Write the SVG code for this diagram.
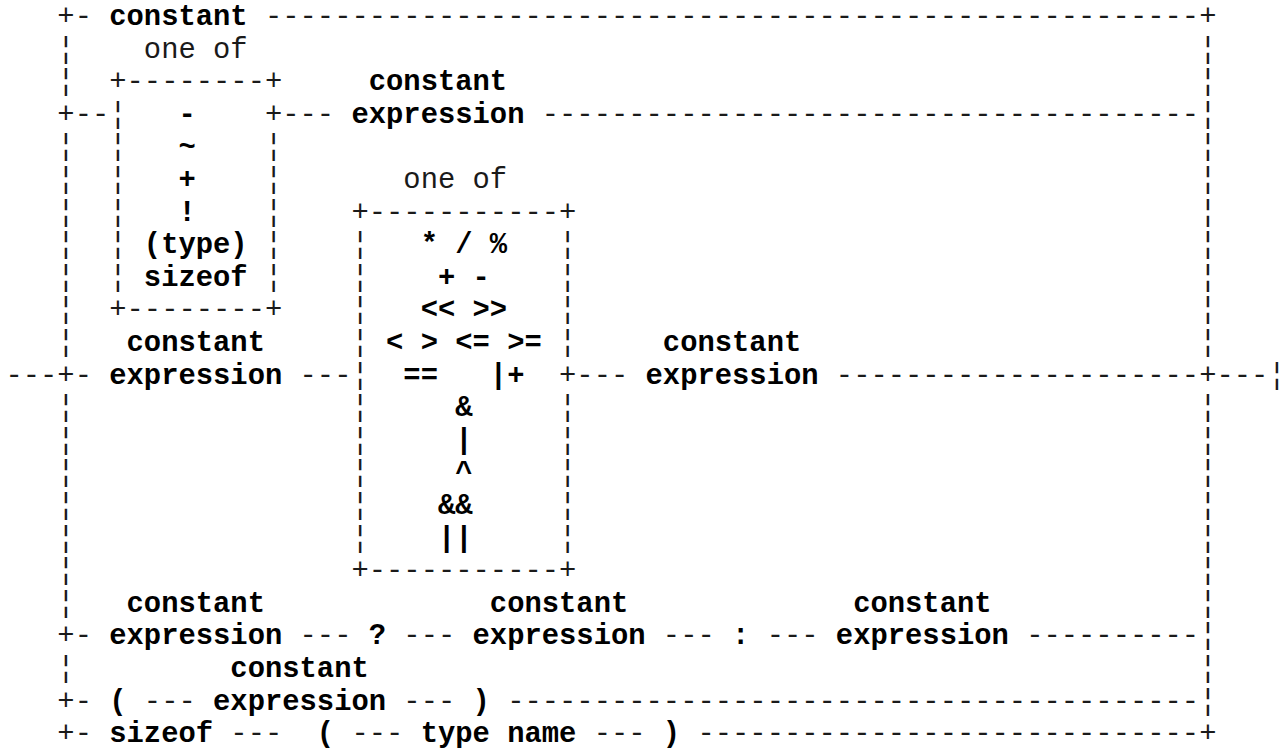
<svg xmlns="http://www.w3.org/2000/svg" width="1284" height="749" viewBox="0 0 1284 749">
  <style>
    text { font-family: "Liberation Mono", "Courier New", monospace; font-size: 28.83px; }
    .ln { fill: #1a1a1a; }
    .kw { fill: #000; font-weight: bold; }
  </style>
  <rect width="1284" height="749" fill="#fff"/>

  <!-- line art: rails, joins and borders (17.3 px per column, 32.6 px per row) -->
  <g id="connectors" class="ln" xml:space="preserve">
    <!-- row 0 -->
    <text x="57.35" y="25">+-</text>
    <text x="264.95" y="25">------------------------------------------------------</text>
    <text x="1199.15" y="25">+</text>
    <!-- row 3 -->
    <text x="57.35" y="122.8">+--</text>
    <text x="264.95" y="122.8">+---</text>
    <text x="541.75" y="122.8">--------------------------------------</text>
    <text x="1199.15" y="122.8">¦</text>
    <!-- row 11 -->
    <text x="5.45" y="383.6">---+-</text>
    <text x="299.55" y="383.6">---</text>
    <text x="559.05" y="383.6">+---</text>
    <text x="835.85" y="383.6">---------------------</text>
    <text x="1199.15" y="383.6">+---</text>
    <text x="1268.35" y="383.6">¦</text>
    <!-- row 19 -->
    <text x="57.35" y="644.4">+-</text>
    <text x="299.55" y="644.4">---</text>
    <text x="403.35" y="644.4">---</text>
    <text x="662.85" y="644.4">---</text>
    <text x="766.65" y="644.4">---</text>
    <text x="1026.15" y="644.4">----------</text>
    <text x="1199.15" y="644.4">¦</text>
    <!-- row 21 -->
    <text x="57.35" y="709.6">+-</text>
    <text x="143.85" y="709.6">---</text>
    <text x="403.35" y="709.6">---</text>
    <text x="507.15" y="709.6">----------------------------------------</text>
    <text x="1199.15" y="709.6">¦</text>
    <!-- row 22 -->
    <text x="57.35" y="742.2">+-</text>
    <text x="230.35" y="742.2">---</text>
    <text x="351.45" y="742.2">---</text>
    <text x="593.65" y="742.2">---</text>
    <text x="697.45" y="742.2">-----------------------------</text>
    <text x="1199.15" y="742.2">+</text>
    <!-- left border -->
    <text>
      <tspan x="57.35" y="57.6">¦</tspan><tspan x="57.35" y="90.2">¦</tspan>
      <tspan x="57.35" y="155.4">¦</tspan><tspan x="57.35" y="188">¦</tspan>
      <tspan x="57.35" y="220.6">¦</tspan><tspan x="57.35" y="253.2">¦</tspan>
      <tspan x="57.35" y="285.8">¦</tspan><tspan x="57.35" y="318.4">¦</tspan>
      <tspan x="57.35" y="351">¦</tspan><tspan x="57.35" y="416.2">¦</tspan>
      <tspan x="57.35" y="448.8">¦</tspan><tspan x="57.35" y="481.4">¦</tspan>
      <tspan x="57.35" y="514">¦</tspan><tspan x="57.35" y="546.6">¦</tspan>
      <tspan x="57.35" y="579.2">¦</tspan><tspan x="57.35" y="611.8">¦</tspan>
      <tspan x="57.35" y="677">¦</tspan>
    </text>
    <!-- right border -->
    <text>
      <tspan x="1199.15" y="57.6">¦</tspan><tspan x="1199.15" y="90.2">¦</tspan>
      <tspan x="1199.15" y="155.4">¦</tspan><tspan x="1199.15" y="188">¦</tspan>
      <tspan x="1199.15" y="220.6">¦</tspan><tspan x="1199.15" y="253.2">¦</tspan>
      <tspan x="1199.15" y="285.8">¦</tspan><tspan x="1199.15" y="318.4">¦</tspan>
      <tspan x="1199.15" y="351">¦</tspan><tspan x="1199.15" y="416.2">¦</tspan>
      <tspan x="1199.15" y="448.8">¦</tspan><tspan x="1199.15" y="481.4">¦</tspan>
      <tspan x="1199.15" y="514">¦</tspan><tspan x="1199.15" y="546.6">¦</tspan>
      <tspan x="1199.15" y="579.2">¦</tspan><tspan x="1199.15" y="611.8">¦</tspan>
      <tspan x="1199.15" y="677">¦</tspan>
    </text>
  </g>

  <!-- unary operators box -->
  <g id="unary-ops">
    <text class="ln" x="143.85" y="57.6">one of</text>
    <text class="ln" x="109.25" y="90.2">+--------+</text>
    <text class="ln" x="109.25" y="318.4">+--------+</text>
    <text class="ln">
      <tspan x="109.25" y="122.8">¦</tspan><tspan x="109.25" y="155.4">¦</tspan>
      <tspan x="109.25" y="188">¦</tspan><tspan x="109.25" y="220.6">¦</tspan>
      <tspan x="109.25" y="253.2">¦</tspan><tspan x="109.25" y="285.8">¦</tspan>
      <tspan x="264.95" y="155.4">¦</tspan><tspan x="264.95" y="188">¦</tspan>
      <tspan x="264.95" y="220.6">¦</tspan><tspan x="264.95" y="253.2">¦</tspan>
      <tspan x="264.95" y="285.8">¦</tspan>
    </text>
    <text class="kw" x="178.45" y="122.8">-</text>
    <text class="kw" x="178.45" y="155.4">~</text>
    <text class="kw" x="178.45" y="188">+</text>
    <text class="kw" x="178.45" y="220.6">!</text>
    <text class="kw" x="143.85" y="253.2">(type)</text>
    <text class="kw" x="143.85" y="285.8">sizeof</text>
  </g>

  <!-- binary operators box -->
  <g id="binary-ops" xml:space="preserve">
    <text class="ln" x="403.35" y="188">one of</text>
    <text class="ln" x="351.45" y="220.6">+-----------+</text>
    <text class="ln" x="351.45" y="579.2">+-----------+</text>
    <text class="ln">
      <tspan x="351.45" y="253.2">¦</tspan><tspan x="351.45" y="285.8">¦</tspan>
      <tspan x="351.45" y="318.4">¦</tspan><tspan x="351.45" y="351">¦</tspan>
      <tspan x="351.45" y="383.6">¦</tspan><tspan x="351.45" y="416.2">¦</tspan>
      <tspan x="351.45" y="448.8">¦</tspan><tspan x="351.45" y="481.4">¦</tspan>
      <tspan x="351.45" y="514">¦</tspan><tspan x="351.45" y="546.6">¦</tspan>
      <tspan x="559.05" y="253.2">¦</tspan><tspan x="559.05" y="285.8">¦</tspan>
      <tspan x="559.05" y="318.4">¦</tspan><tspan x="559.05" y="351">¦</tspan>
      <tspan x="559.05" y="416.2">¦</tspan><tspan x="559.05" y="448.8">¦</tspan>
      <tspan x="559.05" y="481.4">¦</tspan><tspan x="559.05" y="514">¦</tspan>
      <tspan x="559.05" y="546.6">¦</tspan>
    </text>
    <text class="kw" x="420.65" y="253.2">* / %</text>
    <text class="kw" x="437.95" y="285.8">+ -</text>
    <text class="kw" x="420.65" y="318.4">&lt;&lt; &gt;&gt;</text>
    <text class="kw" x="386.05" y="351">&lt; &gt; &lt;= &gt;=</text>
    <text class="kw" x="403.35" y="383.6">==</text>
    <text class="kw" x="489.85" y="383.6">|+</text>
    <text class="kw" x="455.25" y="416.2">&amp;</text>
    <text class="kw" x="455.25" y="448.8">|</text>
    <text class="kw" x="455.25" y="481.4">^</text>
    <text class="kw" x="437.95" y="514">&amp;&amp;</text>
    <text class="kw" x="437.95" y="546.6">||</text>
  </g>

  <!-- operand labels -->
  <g id="constant">
    <text class="kw" x="109.25" y="25">constant</text>
  </g>
  <g id="unary-operand">
    <text class="kw" x="368.75" y="90.2">constant</text>
    <text class="kw" x="351.45" y="122.8">expression</text>
  </g>
  <g id="binary-left">
    <text class="kw" x="126.55" y="351">constant</text>
    <text class="kw" x="109.25" y="383.6">expression</text>
  </g>
  <g id="binary-right">
    <text class="kw" x="662.85" y="351">constant</text>
    <text class="kw" x="645.55" y="383.6">expression</text>
  </g>
  <g id="conditional">
    <text class="kw" x="126.55" y="611.8">constant</text>
    <text class="kw" x="109.25" y="644.4">expression</text>
    <text class="kw" x="368.75" y="644.4">?</text>
    <text class="kw" x="489.85" y="611.8">constant</text>
    <text class="kw" x="472.55" y="644.4">expression</text>
    <text class="kw" x="732.05" y="644.4">:</text>
    <text class="kw" x="853.15" y="611.8">constant</text>
    <text class="kw" x="835.85" y="644.4">expression</text>
  </g>
  <g id="parenthesized">
    <text class="kw" x="109.25" y="709.6">(</text>
    <text class="kw" x="230.35" y="677">constant</text>
    <text class="kw" x="213.05" y="709.6">expression</text>
    <text class="kw" x="472.55" y="709.6">)</text>
  </g>
  <g id="sizeof-type" xml:space="preserve">
    <text class="kw" x="109.25" y="742.2">sizeof</text>
    <text class="kw" x="316.85" y="742.2">(</text>
    <text class="kw" x="420.65" y="742.2">type name</text>
    <text class="kw" x="662.85" y="742.2">)</text>
  </g>
</svg>
